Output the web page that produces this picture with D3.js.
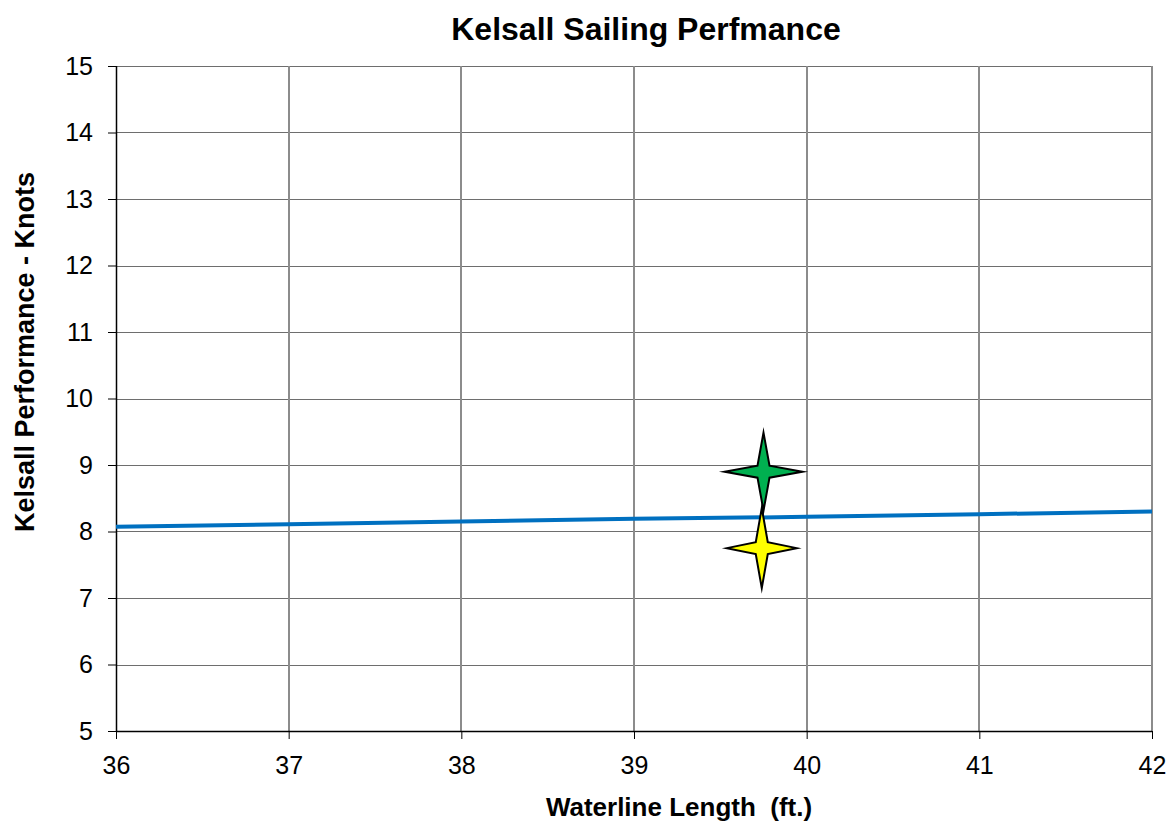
<!DOCTYPE html>
<html>
<head>
<meta charset="utf-8">
<script src="https://cdn.jsdelivr.net/npm/d3@7"></script>
<style>
  html, body { margin: 0; padding: 0; background: #fff; }
  svg { display: block; font-family: "Liberation Sans", Arial, sans-serif; }
</style>
</head>
<body>
<svg id="chart" width="1175" height="828"></svg>
<script>
// Kelsall performance curve over waterline length
const lengthFt = [36, 37, 38, 39, 40, 41, 42];
const kelsallKnots = [8.07, 8.11, 8.15, 8.19, 8.22, 8.26, 8.30];

// Individual boat markers
const boatLength = [39.75, 39.74];
const boatKnots = [8.9, 7.75];
const boatColors = ["#00b050", "#ffff00"];
const boatSizes = [[39, 39], [35, 40]]; // half-width, half-height in px

const xTicks = [36, 37, 38, 39, 40, 41, 42];
const yTicks = [5, 6, 7, 8, 9, 10, 11, 12, 13, 14, 15];

const svg = d3.select("#chart");
const margin = { left: 116, top: 66, right: 1175 - 1152, bottom: 828 - 731 };
const W = 1175 - margin.left - margin.right;
const H = 828 - margin.top - margin.bottom;

const x = d3.scaleLinear().domain([36, 42]).range([0, W]);
const y = d3.scaleLinear().domain([5, 15]).range([H, 0]);

const g = svg.append("g").attr("transform", `translate(${margin.left},${margin.top})`);

// Grid
g.append("g").selectAll("line").data(yTicks.filter(d => d > 5)).join("line")
  .attr("x1", 0).attr("x2", W)
  .attr("y1", d => Math.round(y(d)) + 0.5).attr("y2", d => Math.round(y(d)) + 0.5)
  .attr("stroke", "#6e6e6e").attr("stroke-width", 1);
g.append("g").selectAll("line").data(xTicks.filter(d => d > 36)).join("line")
  .attr("y1", 0).attr("y2", H)
  .attr("x1", d => Math.round(x(d))).attr("x2", d => Math.round(x(d)))
  .attr("stroke", "#8c8c8c").attr("stroke-width", 2);

// Axes
const xAxis = d3.axisBottom(x).tickValues(xTicks).tickFormat(d3.format("d"))
  .tickSize(8).tickPadding(17);
const yAxis = d3.axisLeft(y).tickValues(yTicks).tickFormat(d3.format("d"))
  .tickSize(8).tickPadding(15);

const gx = g.append("g").attr("transform", `translate(0,${H})`).call(xAxis);
const gy = g.append("g").call(yAxis);
[gx, gy].forEach(a => {
  a.attr("font-size", null).attr("font-family", null);
  a.select(".domain").attr("stroke", "#000").attr("stroke-width", 1.5);
  a.selectAll(".tick line").attr("stroke", "#000").attr("stroke-width", 1);
  a.selectAll(".tick text").attr("fill", "#000")
    .style("font-size", "25px").style("font-family", "'Liberation Sans', Arial, sans-serif");
});
gx.select(".domain").attr("d", `M0.5,0.5H${W}`);
gy.select(".domain").attr("d", `M0.5,0V${H}`);

// Performance line
g.append("path")
  .datum(lengthFt.map((d, i) => [d, kelsallKnots[i]]))
  .attr("fill", "none")
  .attr("stroke", "#0070c0")
  .attr("stroke-width", 4)
  .attr("d", d3.line().x(d => x(d[0])).y(d => y(d[1])));

// Four-point star markers
function star(rx, ry) {
  const ri = 8.5;
  const pts = [];
  for (let k = 0; k < 8; k++) {
    const a = -Math.PI / 2 + k * Math.PI / 4;
    if (k % 2 === 0) {
      pts.push([Math.cos(a) * rx, Math.sin(a) * ry]);
    } else {
      pts.push([Math.cos(a) * ri, Math.sin(a) * ri]);
    }
  }
  return "M" + pts.map(p => p.join(",")).join("L") + "Z";
}
g.append("g").selectAll("path").data(boatLength).join("path")
  .attr("transform", (d, i) => `translate(${x(d)},${y(boatKnots[i])})`)
  .attr("d", (d, i) => star(boatSizes[i][0], boatSizes[i][1]))
  .attr("fill", (d, i) => boatColors[i])
  .attr("stroke", "#000")
  .attr("stroke-width", 2)
  .attr("stroke-linejoin", "miter")
  .attr("stroke-miterlimit", 20);

// Titles
svg.append("text")
  .attr("x", 646).attr("y", 40)
  .attr("text-anchor", "middle")
  .style("font-size", "32px").style("font-weight", "bold")
  .text("Kelsall Sailing Perfmance");

svg.append("text")
  .attr("x", 679).attr("y", 816)
  .attr("text-anchor", "middle")
  .style("font-size", "26px").style("font-weight", "bold")
  .style("white-space", "pre")
  .text("Waterline Length  (ft.)");

svg.append("text")
  .attr("transform", `translate(34,352) rotate(-90)`)
  .attr("text-anchor", "middle")
  .style("font-size", "27px").style("font-weight", "bold")
  .text("Kelsall Performance - Knots");
</script>
</body>
</html>
